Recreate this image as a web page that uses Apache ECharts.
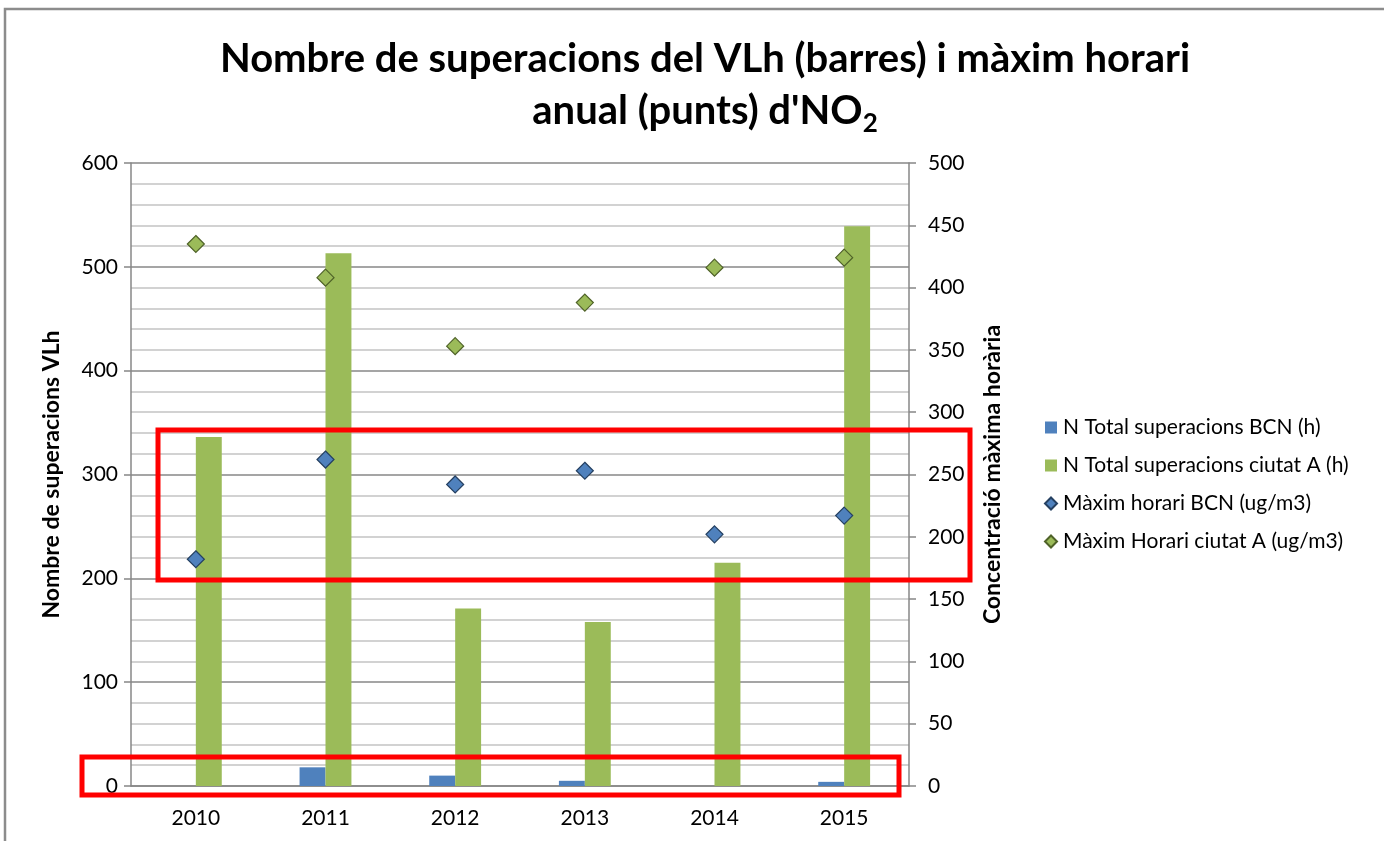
<!DOCTYPE html>
<html>
<head>
<meta charset="utf-8">
<script src="https://cdn.jsdelivr.net/npm/echarts@6/dist/echarts.min.js"></script>
<style>
  html, body { margin: 0; padding: 0; background: #fff; }
  #chart { width: 1384px; height: 841px; }
</style>
</head>
<body>
<div id="chart"></div>
<script>
// years on the category axis
var years = ['2010', '2011', '2012', '2013', '2014', '2015'];

// bars, left axis (hours above the hourly limit)
var superBCN = [0, 18, 10, 5, 0, 4];
var superCiutatA = [336, 513, 171, 158, 215, 539];

// diamonds, right axis (max hourly, ug/m3)
var maxBCN = [182, 262, 242, 253, 202, 217];
var maxCiutatA = [435, 408, 353, 388, 416, 424];

var fontFam = 'Lato, Carlito, "Liberation Sans", sans-serif';

var myChart = echarts.init(document.getElementById('chart'));
var option = {
  backgroundColor: '#fff',
  animation: false,
  textStyle: { fontFamily: fontFam },
  title: {
    text: "Nombre de superacions del VLh (barres) i màxim horari\nanual (punts) d'NO{sub|2}",
    left: 700,
    textAlign: 'center',
    top: 28,
    textStyle: {
      fontFamily: fontFam,
      fontSize: 40,
      fontWeight: 'bold',
      color: '#000',
      lineHeight: 52,
      rich: {
        sub: { fontSize: 26, fontWeight: 'bold', verticalAlign: 'bottom', padding: [20, 0, 0, 0], lineHeight: 52 }
      }
    }
  },
  legend: {
    orient: 'vertical',
    left: 1044,
    top: 417,
    padding: 0,
    itemWidth: 12,
    itemHeight: 12,
    itemGap: 17,
    textStyle: { fontFamily: fontFam, fontSize: 21, color: '#000', padding: [0, 0, 0, 1] },
    data: [
      { name: 'N Total superacions BCN (h)', icon: 'rect' },
      { name: 'N Total superacions ciutat A (h)', icon: 'rect' },
      { name: 'Màxim horari BCN (ug/m3)', icon: 'diamond' },
      { name: 'Màxim Horari ciutat A (ug/m3)', icon: 'diamond' }
    ]
  },
  grid: {
    left: 131,
    right: 475,
    top: 163,
    bottom: 55
  },
  xAxis: {
    type: 'category',
    data: years,
    boundaryGap: true,
    axisLine: { lineStyle: { color: '#878787', width: 1.5 } },
    axisTick: { show: false },
    axisLabel: { color: '#000', fontSize: 21, margin: 22, fontFamily: fontFam }
  },
  yAxis: [
    {
      type: 'value',
      min: 0,
      max: 600,
      interval: 100,
      name: 'Nombre de superacions VLh',
      nameLocation: 'middle',
      nameGap: 68,
      nameTextStyle: { fontFamily: fontFam, fontSize: 23, fontWeight: 'bold', color: '#000' },
      axisLine: { show: true, lineStyle: { color: '#878787', width: 1.5 } },
      axisTick: { show: true, length: 7, lineStyle: { color: '#878787', width: 1.5 } },
      axisLabel: { color: '#000', fontSize: 21, margin: 13, fontFamily: fontFam },
      splitLine: { show: true, lineStyle: { color: '#878787', width: 1.5 } },
      minorTick: { show: false, splitNumber: 5 },
      minorSplitLine: { show: true, lineStyle: { color: '#c4c4c4', width: 1.5 } }
    },
    {
      type: 'value',
      min: 0,
      max: 500,
      interval: 50,
      position: 'right',
      name: 'Concentració màxima horària',
      nameLocation: 'middle',
      nameGap: 72,
      nameTextStyle: { fontFamily: fontFam, fontSize: 23, fontWeight: 'bold', color: '#000' },
      axisLine: { show: true, lineStyle: { color: '#878787', width: 1.5 } },
      axisTick: { show: true, length: 7, lineStyle: { color: '#878787', width: 1.5 } },
      axisLabel: { color: '#000', fontSize: 21, margin: 19, fontFamily: fontFam },
      splitLine: { show: false }
    }
  ],
  series: [
    {
      name: 'N Total superacions BCN (h)',
      type: 'bar',
      data: superBCN,
      barGap: '0%',
      barCategoryGap: '60%',
      itemStyle: { color: '#4f81bd' }
    },
    {
      name: 'N Total superacions ciutat A (h)',
      type: 'bar',
      data: superCiutatA,
      itemStyle: { color: '#9bbb59' }
    },
    {
      name: 'Màxim horari BCN (ug/m3)',
      type: 'scatter',
      yAxisIndex: 1,
      data: maxBCN,
      symbol: 'diamond',
      symbolSize: 17,
      itemStyle: { color: '#4f81bd', borderColor: '#254061', borderWidth: 1.2, opacity: 1 }
    },
    {
      name: 'Màxim Horari ciutat A (ug/m3)',
      type: 'scatter',
      yAxisIndex: 1,
      data: maxCiutatA,
      symbol: 'diamond',
      symbolSize: 17,
      itemStyle: { color: '#9bbb59', borderColor: '#4f6228', borderWidth: 1.2, opacity: 1 }
    }
  ],
  graphic: [
    // outer chart-area frame (top and left edges visible)
    { type: 'polyline', silent: true, shape: { points: [[5, 841], [5, 9], [1384, 9]] },
      style: { fill: null, stroke: '#8c8c8c', lineWidth: 2.5 } },
    // red highlight boxes drawn over the chart
    { type: 'rect', silent: true, z: 100, shape: { x: 158, y: 430, width: 812, height: 150 },
      style: { fill: null, stroke: '#ff0000', lineWidth: 5 } },
    { type: 'rect', silent: true, z: 100, shape: { x: 82, y: 757, width: 817, height: 38 },
      style: { fill: null, stroke: '#ff0000', lineWidth: 5 } }
  ]
};
myChart.setOption(option);
</script>
</body>
</html>
